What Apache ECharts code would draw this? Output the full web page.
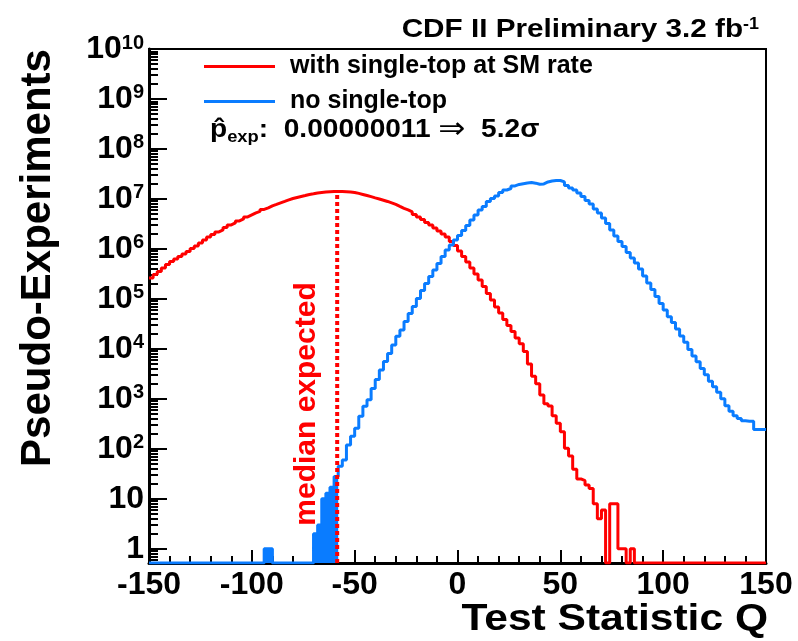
<!DOCTYPE html>
<html><head><meta charset="utf-8">
<script src="https://cdn.jsdelivr.net/npm/echarts@6/dist/echarts.min.js"></script>
<style>html,body{margin:0;padding:0;background:#fff}#c{width:798px;height:641px}</style>
</head><body><div id="c"></div>
<script>
// Histogram binning (2-unit bins from -150 to 150)
const binLow = -150;
const binWidth = 2;

// "with single-top at SM rate" (red), counts per bin
const withSingleTop = [
  263000, 309000, 355000, 417000, 490000, 562000, 631000, 708000, 794000, 891000,
  1020000, 1150000, 1320000, 1510000, 1740000, 1950000, 2190000, 2400000, 2690000, 3020000,
  3310000, 3630000, 3980000, 4370000, 4790000, 5250000, 5620000, 6170000, 6610000, 7240000,
  7760000, 8320000, 8910000, 9550000, 10200000, 10700000, 11200000, 11700000, 12300000, 12700000,
  13200000, 13500000, 13800000, 14000000, 14100000, 14100000, 14100000, 14000000, 13800000, 13500000,
  12900000, 12300000, 11700000, 11100000, 10500000, 10000000, 9440000, 8910000, 8320000, 7760000,
  7080000, 6460000, 6030000, 5500000, 4900000, 4370000, 3890000, 3390000, 3020000, 2630000,
  2290000, 2000000, 1740000, 1410000, 1170000, 912000, 708000, 550000, 417000, 316000,
  240000, 178000, 129000, 95500, 69200, 52500, 38900, 29500, 22400, 16600,
  12600, 8910, 5010, 2820, 2000, 1200,
  800, 720, 460, 325, 220, 103, 72, 39, 25, 23, 19, 16, 8, 4, 6, 0, 8, 8, 1, 1, 0, 1,
  0, 0, 0, 0, 0, 0, 0, 0, 0, 0, 0, 0, 0, 0, 0, 0,
  0, 0, 0, 0, 0, 0, 0, 0, 0, 0, 0, 0, 0, 0, 0, 0
];

// "no single-top" (blue), counts per bin
const noSingleTop = [
  0, 0, 0, 0, 0, 0, 0, 0, 0, 0, 0, 0, 0, 0, 0, 0, 0, 0, 0, 0, 0, 0, 0, 0, 0, 0, 0, 0,
  1, 1,
  0, 0, 0, 0, 0, 0, 0, 0, 0, 0,
  2, 3, 10, 13, 17, 28, 45, 60, 120, 178,
  257, 447, 708, 955, 1620, 2450, 3800, 5620, 8130, 12000,
  17800, 24000, 35500, 51300, 70800, 102000, 148000, 204000, 282000, 380000,
  513000, 708000, 955000, 1200000, 1510000, 1860000, 2340000, 2950000,
  3800000, 4790000, 6030000, 7080000, 8910000, 10200000, 11500000, 13500000, 15100000, 16200000,
  18200000, 19500000, 20200000, 20900000, 21400000, 20700000, 19700000, 20000000, 21900000, 22900000,
  23400000, 23400000, 21900000, 18600000, 16600000, 15100000, 13200000, 11200000, 9330000, 7940000,
  6310000, 5250000, 4170000, 3240000, 2400000, 1820000, 1410000, 1120000, 851000, 661000,
  525000, 398000, 288000, 209000, 155000, 112000, 81300, 60300, 43700, 33900,
  25100, 18200, 13500, 9770, 7240, 5500, 4070, 3020, 2240, 1740,
  1350, 1000, 724, 562, 457, 407, 363, 355, 355, 245,
  245, 245
];

const medianQ = -58.5;      // median expected of the red distribution
const fillUpTo = -58;       // blue histogram filled up to this edge
const yMin = 0.52, yMax = 1e10;
const xMin = -150, xMax = 150, xStep = 50;
const yDecades = [1, 10, 1e2, 1e3, 1e4, 1e5, 1e6, 1e7, 1e8, 1e9, 1e10];
const yMinorMult = [2, 3, 4, 5, 6, 7, 8, 9];
const seriesNames = ['with single-top at SM rate', 'no single-top'];
const RED = '#ff0000', BLUE = '#0a7cff';
const FONT = "'Liberation Sans', Arial, Helvetica, sans-serif";

function stepData(vals) {
  const pts = vals.map((v, i) => [binLow + i * binWidth, v > 0 ? v : yMin]);
  pts.push([binLow + vals.length * binWidth, pts[pts.length - 1][1]]);
  return pts;
}
const nFill = Math.round((fillUpTo - binLow) / binWidth);
const medianBin = Math.floor((medianQ - binLow) / binWidth);
const yMinor = [0.6, 0.7, 0.8, 0.9];
yDecades.slice(0, -1).forEach(d => yMinorMult.forEach(m => yMinor.push(m * d)));

const chart = echarts.init(document.getElementById('c'), null, {renderer: 'canvas', width: 798, height: 641});
chart.setOption({
  animation: false,
  backgroundColor: '#fff',
  grid: {left: 149, right: 32, top: 49, bottom: 78, show: true, borderColor: '#000', borderWidth: 2, backgroundColor: 'transparent'},
  legend: {
    data: seriesNames, orient: 'vertical', left: 204, top: 54, padding: 0, icon: 'rect',
    itemWidth: 71, itemHeight: 3, itemGap: 10, selectedMode: false,
    textStyle: {fontFamily: FONT, fontWeight: 'bold', fontSize: 25, color: '#000', lineHeight: 22, padding: [0, 0, 0, 10]}
  },
  xAxis: {
    type: 'value', min: xMin, max: xMax, interval: xStep,
    axisLine: {onZero: false, lineStyle: {color: '#000', width: 3}},
    axisTick: {inside: true, length: 13, lineStyle: {color: '#000', width: 2}},
    minorTick: {show: true, splitNumber: 5, length: 7, lineStyle: {color: '#000', width: 2}},
    splitLine: {show: false},
    axisLabel: {fontFamily: FONT, fontWeight: 'bold', fontSize: 32, color: '#000', margin: 6}
  },
  yAxis: [{
    type: 'log', logBase: 10, min: yMin, max: yMax, position: 'left',
    axisLine: {show: true, onZero: false, lineStyle: {color: '#000', width: 3}},
    axisTick: {inside: true, length: 18, customValues: yDecades, lineStyle: {color: '#000', width: 2}},
    splitLine: {show: false},
    axisLabel: {
      customValues: yDecades, margin: 5,
      formatter: v => {
        const e = Math.round(Math.log10(v));
        if (e === 0) return '{b|1}';
        if (e === 1) return '{b|10}';
        return '{b|10}{s|' + e + '}';
      },
      rich: {
        b: {fontFamily: FONT, fontWeight: 'bold', fontSize: 32, color: '#000', lineHeight: 32},
        s: {fontFamily: FONT, fontWeight: 'bold', fontSize: 20, color: '#000', verticalAlign: 'top', lineHeight: 20}
      }
    }
  }, {
    type: 'log', logBase: 10, min: yMin, max: yMax, position: 'left',
    axisLine: {show: false, onZero: false},
    axisTick: {inside: true, length: 9, customValues: yMinor, lineStyle: {color: '#000', width: 2}},
    axisLabel: {show: false},
    splitLine: {show: false}
  }],
  series: [
    {name: seriesNames[0], type: 'line', step: 'end', data: stepData(withSingleTop), showSymbol: false,
     color: RED, lineStyle: {color: RED, width: 3}, clip: true, z: 2},
    {name: seriesNames[1], type: 'line', step: 'end', data: stepData(noSingleTop), showSymbol: false,
     color: BLUE, lineStyle: {color: BLUE, width: 3}, clip: true, z: 3},
    {type: 'line', step: 'end', data: stepData(noSingleTop.slice(0, nFill)), showSymbol: false, silent: true,
     color: BLUE, lineStyle: {width: 0}, areaStyle: {color: BLUE, opacity: 1, origin: 'start'}, clip: true, z: 4},
    {type: 'line', data: [[medianQ, yMin], [medianQ, withSingleTop[medianBin]]], showSymbol: false, silent: true,
     color: RED, lineStyle: {color: RED, width: 4, type: [4, 3]}, z: 5}
  ],
  graphic: [
    {type: 'text', x: 38, y: 258, rotation: Math.PI / 2, z: 10,
     style: {text: 'Pseudo-Experiments', fontFamily: FONT, fontWeight: 'bold', fontSize: 42, fill: '#000', align: 'center', verticalAlign: 'middle'}},
    {type: 'text', x: 768, y: 620, scaleX: 1.15, z: 10,
     style: {text: 'Test Statistic Q', fontFamily: FONT, fontWeight: 'bold', fontSize: 37, fill: '#000', align: 'right', verticalAlign: 'middle'}},
    {type: 'text', x: 759, y: 30, scaleX: 1.12, z: 10,
     style: {text: '{t|CDF II Preliminary 3.2 fb}{s|-1}', align: 'right', verticalAlign: 'middle',
       rich: {t: {fontFamily: FONT, fontWeight: 'bold', fontSize: 26.5, fill: '#000', lineHeight: 26},
              s: {fontFamily: FONT, fontWeight: 'bold', fontSize: 16, fill: '#000', verticalAlign: 'top', lineHeight: 16}}}},
    {type: 'text', x: 210, y: 130, scaleX: 1.08, z: 10,
     style: {text: '{p|p\u0302}{e|exp}{n|:  0.00000011 }{a|\u21D2}{n|  5.2}{g|\u03C3}', align: 'left', verticalAlign: 'middle',
       rich: {p: {fontFamily: FONT, fontWeight: 'bold', fontSize: 26, fill: '#000'},
              e: {fontFamily: FONT, fontWeight: 'bold', fontSize: 17, fill: '#000', verticalAlign: 'bottom', padding: [14, 0, 0, 0]},
              n: {fontFamily: FONT, fontWeight: 'bold', fontSize: 26, fill: '#000'},
              a: {fontFamily: "'DejaVu Sans', sans-serif", fontSize: 30, fill: '#000'},
              g: {fontFamily: FONT, fontWeight: 'bold', fontSize: 26, fill: '#000'}}}},
    {type: 'text', x: 307, y: 404, rotation: Math.PI / 2, z: 10,
     style: {text: 'median expected', fontFamily: FONT, fontWeight: 'bold', fontSize: 30, fill: RED, align: 'center', verticalAlign: 'middle'}}
  ]
});
</script></body></html>
